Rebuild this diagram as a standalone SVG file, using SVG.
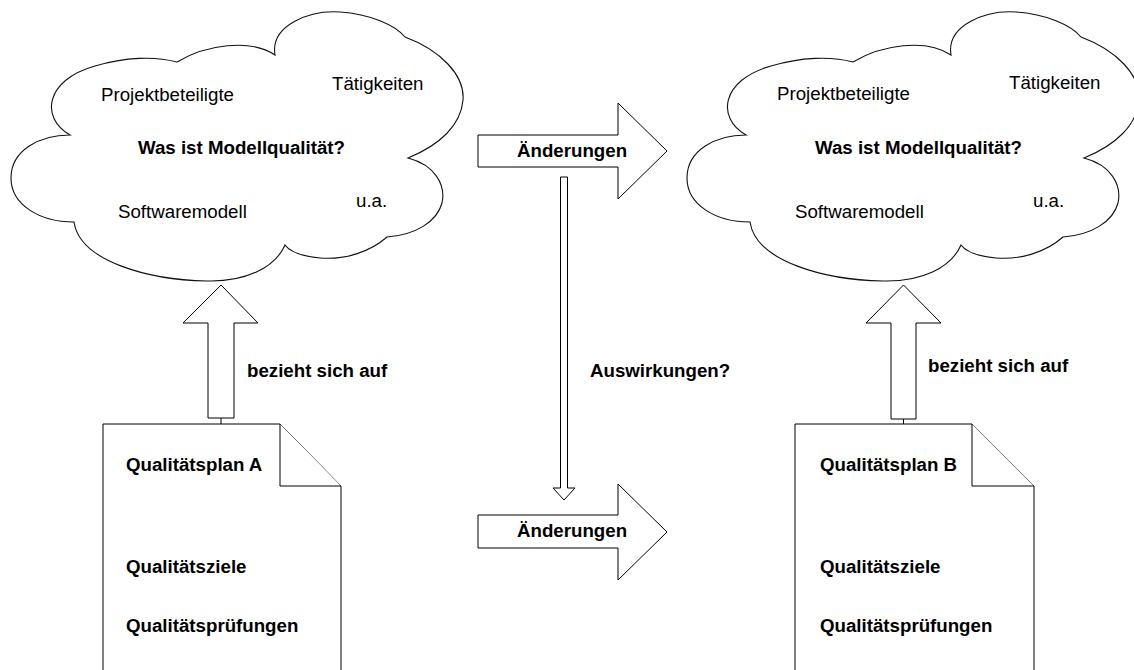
<svg xmlns="http://www.w3.org/2000/svg" width="1134" height="670" viewBox="0 0 1134 670">
  <defs>
    <style>
      .shape { fill: #fff; stroke: #000; stroke-width: 1; stroke-linejoin: miter; }
      .cloud { fill: #fff; stroke: #111; stroke-width: 1.1; }
      .t { font-family: "Liberation Sans", Arial, sans-serif; font-size: 18.7px; fill: #000; }
      .b { font-weight: bold; }
    </style>
    <!-- cloud outline, reused for both quality contexts -->
    <path id="cloudShape" d="M74 222 C40 222 11 205 11 178 C11 150 40 135 70 135
      C40 118 45 80 95 66 C125 57 155 56 177 62
      C205 45 250 38 275 55
      C270 25 310 10 340 12 C370 14 395 25 405 37
      C440 50 465 75 463 100 C461 125 440 145 408 158
      C435 165 446 185 442 203 C437 222 415 235 387 237
      C370 252 345 260 320 258 C300 256 290 252 285 245
      C275 268 245 282 207 281 C150 280 80 262 74 222 Z"/>
  </defs>

  <!-- left cloud -->
  <g id="cloud-a">
    <use href="#cloudShape" class="cloud"/>
    <text class="t" x="101" y="101">Projektbeteiligte</text>
    <text class="t" x="332" y="90">Tätigkeiten</text>
    <text class="t b" x="138" y="154">Was ist Modellqualität?</text>
    <text class="t" x="118" y="218">Softwaremodell</text>
    <text class="t" x="356" y="207">u.a.</text>
  </g>

  <!-- right cloud -->
  <g id="cloud-b" transform="translate(676,0)">
    <use href="#cloudShape" class="cloud"/>
    <text class="t" x="101" y="100">Projektbeteiligte</text>
    <text class="t" x="333" y="89">Tätigkeiten</text>
    <text class="t b" x="139" y="154">Was ist Modellqualität?</text>
    <text class="t" x="119" y="218">Softwaremodell</text>
    <text class="t" x="357" y="207">u.a.</text>
  </g>

  <!-- quality plan documents -->
  <g id="plan-a">
    <path class="shape" d="M103 671 V424 H280 L341 486 V671"/>
    <path class="shape" fill="none" d="M280 424 V486 H341"/>
    <text class="t b" x="126" y="471">Qualitätsplan A</text>
    <text class="t b" x="126" y="573">Qualitätsziele</text>
    <text class="t b" x="126" y="632">Qualitätsprüfungen</text>
  </g>

  <g id="plan-b">
    <path class="shape" d="M795 671 V424 H972 L1034 486 V671"/>
    <path class="shape" fill="none" d="M972 424 V486 H1034"/>
    <text class="t b" x="820" y="471">Qualitätsplan B</text>
    <text class="t b" x="820" y="573">Qualitätsziele</text>
    <text class="t b" x="820" y="632">Qualitätsprüfungen</text>
  </g>

  <!-- connectors: block arrows -->
  <g id="connectors">
    <!-- plan A refers to cloud A -->
    <path class="shape" d="M208 418 V323 H183 L221 285 L258 323 H234 V418 Z"/>
    <line x1="221" y1="418" x2="221" y2="424" stroke="#000" stroke-width="1"/>
    <text class="t b" x="247" y="377">bezieht sich auf</text>

    <!-- plan B refers to cloud B -->
    <path class="shape" d="M891 419 V323 H866 L903.5 285 L941 323 H916 V419 Z"/>
    <line x1="903.5" y1="419" x2="903.5" y2="424" stroke="#000" stroke-width="1"/>
    <text class="t b" x="928" y="372">bezieht sich auf</text>

    <!-- changes between the contexts -->
    <path class="shape" d="M478 135 H618 V103 L667 151 L618 199 V167 H478 Z"/>
    <text class="t b" x="517" y="157">Änderungen</text>

    <path class="shape" d="M478 515 H618 V484 L667 532 L618 580 V548 H478 Z"/>
    <text class="t b" x="517" y="537">Änderungen</text>

    <!-- effect of the changes -->
    <path class="shape" d="M560.5 177 H567.5 V488 H575 L564 500 L553 488 H560.5 Z"/>
    <text class="t b" x="590" y="377">Auswirkungen?</text>
  </g>
</svg>
